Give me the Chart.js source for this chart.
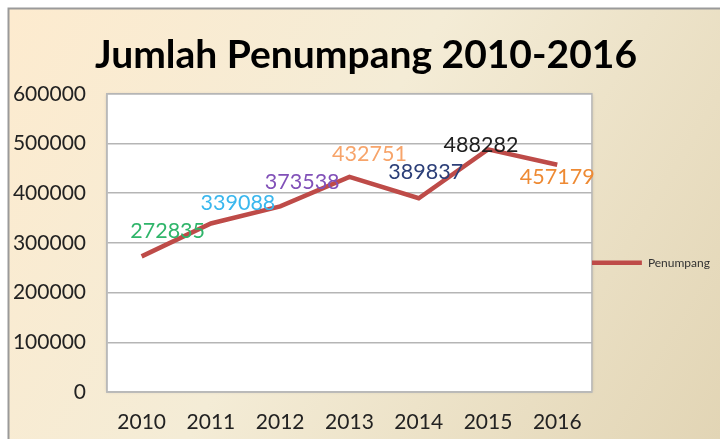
<!DOCTYPE html>
<html>
<head>
<meta charset="utf-8">
<script src="https://cdn.jsdelivr.net/npm/chart.js@4/dist/chart.umd.min.js"></script>
<style>
  html, body { margin: 0; padding: 0; background: #ffffff; }
  #wrap { width: 720px; height: 439px; position: relative; }
</style>
</head>
<body>
<div id="wrap"><canvas id="c" width="720" height="439"></canvas></div>
<script>
// ---- data ----
const years = ['2010', '2011', '2012', '2013', '2014', '2015', '2016'];
const penumpang = [272835, 339088, 373538, 432751, 389837, 488282, 457179];
const yTicks = [0, 100000, 200000, 300000, 400000, 500000, 600000];
const seriesName = 'Penumpang';
const chartTitle = 'Jumlah Penumpang 2010-2016';

// ---- styling (not data) ----
const labelColors = ['#2fb56a', '#3ab7ee', '#8150b8', '#f7a46a', '#2c3f78', '#1e1e1e', '#ee8a33'];
const labelOffsets = [[26, -25], [27, -20], [22, -24], [20, -23], [7, -26], [-7, -4], [0, 12]];
const FONT = 'Lato, "Open Sans", sans-serif';

const backgroundPlugin = {
  id: 'bg',
  beforeDraw(chart) {
    const ctx = chart.ctx;
    const W = chart.width, H = chart.height;
    ctx.save();
    ctx.fillStyle = '#ffffff';
    ctx.fillRect(0, 0, W, H);
    const g = ctx.createLinearGradient(9, 9, W, H);
    g.addColorStop(0, '#fdebcf');
    g.addColorStop(0.45, '#f4ecd6');
    g.addColorStop(1, '#e2d5b5');
    ctx.fillStyle = g;
    ctx.fillRect(9, 9, W - 9, H - 9);
    ctx.strokeStyle = '#9a9a9a';
    ctx.lineWidth = 2;
    ctx.beginPath();
    ctx.moveTo(8.5, H);
    ctx.lineTo(8.5, 8.5);
    ctx.lineTo(W, 8.5);
    ctx.stroke();
    const a = chart.chartArea;
    ctx.shadowColor = 'rgba(0,0,0,0.25)';
    ctx.shadowBlur = 3;
    ctx.fillStyle = '#ffffff';
    ctx.fillRect(a.left, a.top, a.right - a.left, a.bottom - a.top);
    ctx.shadowColor = 'transparent';
    ctx.strokeStyle = '#b9b9b9';
    ctx.lineWidth = 1.5;
    ctx.strokeRect(a.left, a.top, a.right - a.left, a.bottom - a.top);
    ctx.restore();
  }
};

const valueLabelPlugin = {
  id: 'valueLabels',
  afterDatasetsDraw(chart) {
    const ctx = chart.ctx;
    const meta = chart.getDatasetMeta(0);
    const data = chart.data.datasets[0].data;
    ctx.save();
    ctx.font = '21.5px ' + FONT;
    ctx.textAlign = 'center';
    ctx.textBaseline = 'middle';
    meta.data.forEach((pt, i) => {
      const off = labelOffsets[i];
      ctx.fillStyle = labelColors[i];
      ctx.fillText(String(data[i]), pt.x + off[0], pt.y + off[1]);
    });
    ctx.restore();
  }
};

new Chart(document.getElementById('c'), {
  type: 'line',
  data: {
    labels: years,
    datasets: [{
      label: seriesName,
      data: penumpang,
      borderColor: '#be4b48',
      backgroundColor: '#be4b48',
      borderWidth: 4.5,
      pointRadius: 0,
      pointHoverRadius: 0,
      tension: 0,
      fill: false
    }]
  },
  options: {
    responsive: false,
    animation: false,
    events: [],
    layout: { padding: { top: 10, left: 12, right: 0, bottom: 4 } },
    plugins: {
      title: {
        display: true,
        text: chartTitle,
        color: '#000000',
        font: { family: FONT, size: 39, weight: 'bold', lineHeight: 1.2 },
        padding: { top: 22, bottom: 15 }
      },
      legend: {
        display: true,
        position: 'right',
        align: 'center',
        title: { display: true, text: '', padding: { top: 66, bottom: 0 }, font: { family: FONT, size: 12 } },
        labels: {
          usePointStyle: true,
          pointStyle: 'line',
          pointStyleWidth: 50,
          padding: 0,
          color: '#333333',
          font: { family: FONT, size: 12 }
        }
      },
      tooltip: { enabled: false }
    },
    scales: {
      x: {
        offset: true,
        grid: { display: false, drawTicks: false },
        border: { display: true, color: '#b9b9b9', width: 1.5 },
        ticks: { color: '#222222', font: { family: FONT, size: 21 }, padding: 18, maxRotation: 0 },
        afterFit(scale) { scale.height = 43; }
      },
      y: {
        min: 0,
        max: 600000,
        afterBuildTicks(axis) { axis.ticks = yTicks.map(v => ({ value: v })); },
        grid: { color: '#b5b5b5', lineWidth: 1.5, drawTicks: false },
        border: { display: true, color: '#b9b9b9', width: 1.5 },
        ticks: { color: '#222222', font: { family: FONT, size: 21 }, padding: 21, callback: v => String(v) },
        afterFit(scale) { scale.width = 95; }
      }
    }
  },
  plugins: [backgroundPlugin, valueLabelPlugin]
});
</script>
</body>
</html>
